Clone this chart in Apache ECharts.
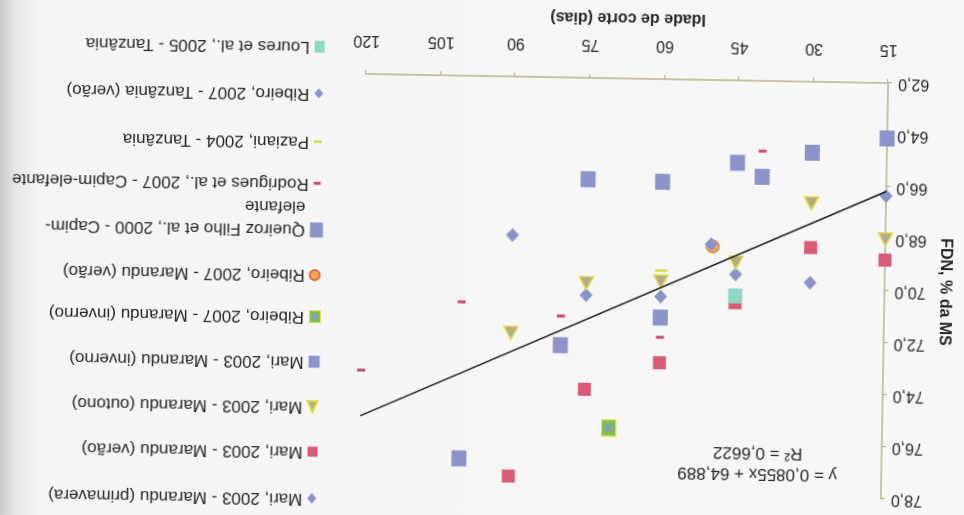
<!DOCTYPE html>
<html>
<head>
<meta charset="utf-8">
<title>FDN x Idade de corte</title>
<script src="https://cdn.jsdelivr.net/npm/echarts@6/dist/echarts.min.js"></script>
<style>
  html, body {
    margin: 0; padding: 0; width: 964px; height: 515px; overflow: hidden;
    background: linear-gradient(to right, #cbcbcb 0px, #e6e6e6 16px, #f5f5f5 38px, #f7f7f7 100%);
  }
  /* the printed figure sits upside down on the page, slightly skewed */
  #chart {
    width: 964px; height: 515px;
    transform: rotate(181deg);
    transform-origin: 50% 50%;
  }
</style>
</head>
<body>
<div id="chart"></div>
<script>
// ---- data: cutting age (days) vs NDF (% of DM) ----
const xMin = 15, xMax = 120, xStep = 15;
const yMin = 62, yMax = 78, yStep = 2;

const seriesNames = [
  'Mari, 2003 - Marandu (primavera)',
  'Mari, 2003 - Marandu (verão)',
  'Mari, 2003 - Marandu (outono)',
  'Mari, 2003 - Marandu (inverno)',
  'Ribeiro, 2007 - Marandu (inverno)',
  'Ribeiro, 2007 - Marandu (verão)',
  'Queiroz Filho et al., 2000 - Capim-elefante',
  'Rodrigues et al., 2007 - Capim-elefante',
  'Paziani, 2004 - Tanzânia',
  'Ribeiro, 2007 - Tanzânia (verão)',
  'Loures et al., 2005 - Tanzânia'
];

const mariPrimavera = [[15, 66.35], [30, 69.73], [45, 69.46], [60, 70.37], [75, 70.36], [90, 68.1]];
const mariVerao = [[15, 68.81], [30, 68.38], [45, 70.55], [60, 72.91], [75, 73.98], [90, 77.37]];
const mariOutono = [[15, 68.02], [30, 66.68], [45, 69.01], [60, 69.79], [75, 69.9], [90, 71.86]];
const mariInverno = [[15, 64.13], [30, 64.73], [45, 65.17], [60, 65.95], [75, 65.9]];
const ribeiroMaranduInverno = [[70, 75.45]];
const ribeiroMaranduVerao = [[49.7, 68.4]];
const queirozFilho = [[40, 65.69], [60, 71.17], [80, 72.3], [100, 76.72]];
const rodrigues = [[40, 64.7], [60, 71.93], [80, 71.18], [100, 70.7], [120, 73.39]];
const paziani = [[60, 69.37]];
const ribeiroTanzania = [[50, 68.32]];
const loures = [[45, 70.29]];

// fitted trend: y = 0,0855x + 64,889 ; R² = 0,6622
const trendSlope = 0.0855;
const trendIntercept = 64.889;
const trendR2 = 0.6622;
const trendFrom = 15, trendTo = 120;

// ---- styling ----
const FONT = '"Liberation Sans", Arial, sans-serif';
const TEXT = '#262626';
const BLUE = '#8b93c9';
const RED = '#d95b78';
const AXIS = '#b8b38d';

const crossSquareSvg =
  "<svg xmlns='http://www.w3.org/2000/svg' width='16' height='18' viewBox='0 0 16 18'>" +
  "<rect x='0.75' y='0.75' width='14.5' height='16.5' fill='#7cc14f' stroke='#e2dd4c' stroke-width='1.5'/>" +
  "<path d='M4 4.5 L12 13.5 M12 4.5 L4 13.5' stroke='#8f93d0' stroke-width='2.2'/></svg>";
const crossSquare = 'image://data:image/svg+xml;charset=utf-8,' + encodeURIComponent(crossSquareSvg);

const comma = (v, d) => v.toFixed(d).replace('.', ',');

// per-series marker and legend-row settings
const defs = [
  { data: mariPrimavera, symbol: 'diamond', size: [13, 14], style: { color: BLUE }, icon: [9, 11], row: 13.8 },
  { data: mariVerao, symbol: 'rect', size: [13, 13], style: { color: RED }, icon: [10, 10], row: 60.4 },
  { data: mariOutono, symbol: 'triangle', size: [14, 13], style: { color: '#b2ab88', borderColor: '#e2d84a', borderWidth: 1.5 }, icon: [10, 11], row: 105.4 },
  { data: mariInverno, symbol: 'rect', size: [15, 16], style: { color: BLUE }, icon: [11, 12], row: 150.4 },
  { data: ribeiroMaranduInverno, symbol: crossSquare, size: [16, 18], style: { color: '#7cc14f' }, icon: [12, 13], row: 195.4 },
  { data: ribeiroMaranduVerao, symbol: 'circle', size: 13, style: { color: '#f3a35e', borderColor: '#e0683f', borderWidth: 1 }, icon: [10, 10], row: 237.1 },
  { data: queirozFilho, symbol: 'rect', size: [15, 16], style: { color: BLUE }, icon: [13, 15], row: 282.1, wrap: true },
  { data: rodrigues, symbol: 'rect', size: [8, 3], style: { color: '#cc4b6c' }, icon: [7, 3], row: 328.8 },
  { data: paziani, symbol: 'rect', size: [12, 3], style: { color: '#d6e05a' }, icon: [8, 3], row: 370.4 },
  { data: ribeiroTanzania, symbol: 'diamond', size: [13, 14], style: { color: BLUE }, icon: [9, 10], row: 418.8 },
  { data: loures, symbol: 'rect', size: [14, 15], style: { color: '#8fd6c4' }, icon: [10, 12], row: 465.4 }
];

const scatterSeries = defs.map((d, i) => ({
  name: seriesNames[i],
  type: 'scatter',
  data: d.data,
  symbol: d.symbol,
  symbolSize: d.size,
  symbolKeepAspect: false,
  itemStyle: Object.assign({ opacity: 1 }, d.style),
  z: 2 + i * 0.01,
  silent: true
}));

const trendSeries = {
  name: 'trend',
  type: 'line',
  data: [
    [trendFrom, trendSlope * trendFrom + trendIntercept],
    [trendTo, trendSlope * trendTo + trendIntercept]
  ],
  showSymbol: false,
  symbol: 'none',
  lineStyle: { color: '#1f1f1f', width: 1.6 },
  z: 5,
  silent: true
};

const LEGEND_X = 648;
const legends = defs.map((d, i) => {
  const lh = d.wrap ? 23 : 20;
  const lines = d.wrap ? 3 : 1;
  return {
    show: true,
    orient: 'vertical',
    left: LEGEND_X - d.icon[0] / 2,
    top: d.row - (lh * lines) / 2,
    padding: 0,
    itemWidth: d.icon[0],
    itemHeight: d.icon[1],
    itemGap: 0,
    symbolKeepAspect: false,
    selectedMode: false,
    data: [{ name: seriesNames[i], icon: d.symbol }],
    formatter: d.wrap
      ? (n) => ' \n' + n.replace('Capim-elefante', 'Capim-\nelefante')
      : (n) => n,
    textStyle: { fontFamily: FONT, fontSize: 17, color: TEXT, lineHeight: lh }
  };
});

const chart = echarts.init(document.getElementById('chart'), null, { renderer: 'canvas' });

chart.setOption({
  backgroundColor: 'transparent',
  animation: false,
  grid: { left: 79, right: 363, top: 23, bottom: 76, containLabel: false },
  xAxis: {
    type: 'value',
    min: xMin, max: xMax, interval: xStep,
    name: 'Idade de corte (dias)',
    nameLocation: 'middle',
    nameGap: 53,
    nameTextStyle: { fontFamily: FONT, fontSize: 16, fontWeight: 'bold', color: TEXT },
    axisLine: { onZero: false, lineStyle: { color: AXIS, width: 1.5 } },
    axisTick: { show: true, length: 4, inside: false, lineStyle: { color: AXIS, width: 1.2 } },
    axisLabel: { margin: 26, fontFamily: FONT, fontSize: 16, color: TEXT },
    splitLine: { show: false }
  },
  yAxis: {
    type: 'value',
    min: yMin, max: yMax, interval: yStep,
    name: 'FDN, % da MS',
    nameLocation: 'middle',
    nameRotate: 90,
    nameGap: 49,
    nameTextStyle: { fontFamily: FONT, fontSize: 16, fontWeight: 'bold', color: TEXT },
    axisLine: { show: true, onZero: false, lineStyle: { color: AXIS, width: 1.5 } },
    axisTick: { show: true, length: 4, inside: false, lineStyle: { color: AXIS, width: 1.2 } },
    axisLabel: { margin: 10, fontFamily: FONT, fontSize: 16, color: TEXT, formatter: (v) => comma(v, 1) },
    splitLine: { show: false }
  },
  legend: legends,
  graphic: [
    {
      type: 'text',
      style: {
        text: 'y = ' + comma(trendSlope, 4) + 'x + ' + comma(trendIntercept, 3),
        x: 0, y: 0,
        fontFamily: FONT, fontSize: 17, fill: TEXT,
        align: 'center', verticalAlign: 'middle'
      },
      x: 203, y: 46
    },
    {
      type: 'text',
      style: {
        text: 'R² = ' + comma(trendR2, 4),
        x: 0, y: 0,
        fontFamily: FONT, fontSize: 17, fill: TEXT,
        align: 'center', verticalAlign: 'middle'
      },
      x: 203, y: 67
    }
  ],
  series: scatterSeries.concat([trendSeries])
});
</script>
</body>
</html>
